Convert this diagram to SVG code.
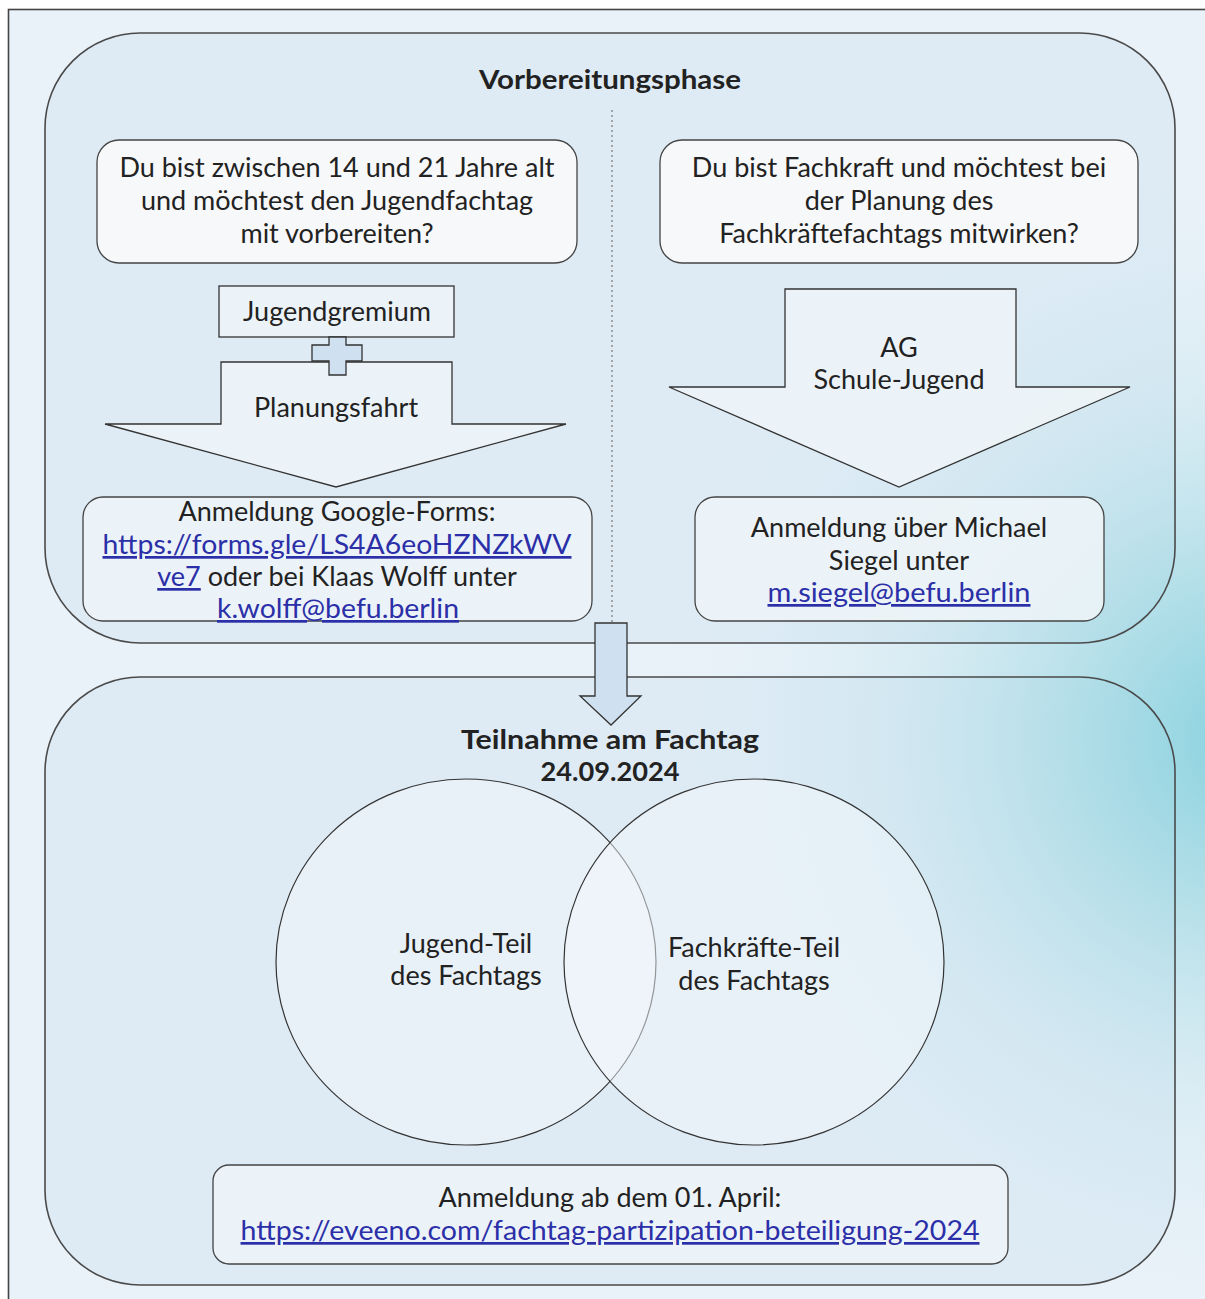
<svg xmlns="http://www.w3.org/2000/svg" width="1205" height="1299" viewBox="0 0 1205 1299">
<defs>
<radialGradient id="teal" gradientUnits="userSpaceOnUse" cx="1250" cy="740" r="600">
<stop offset="0" stop-color="#7fcfdc" stop-opacity="0.95"/>
<stop offset="0.25" stop-color="#96d5e0" stop-opacity="0.7"/>
<stop offset="0.6" stop-color="#b7dfe8" stop-opacity="0.3"/>
<stop offset="1" stop-color="#dcebf4" stop-opacity="0"/>
</radialGradient>
<style>
.t{font-family:Lato,"Noto Sans","Liberation Sans",sans-serif;font-size:27px;fill:#222;text-anchor:middle}
.b{font-weight:bold}
.lnk{fill:#2b2fa8;text-decoration:underline}
.phase{fill:#deebf5}
.phs{fill:none;stroke:#4a4a4a;stroke-width:1.6}
.q{fill:#f7f8f9;stroke:#444;stroke-width:1.3}
.reg{fill:#eef4f8;fill-opacity:0.85;stroke:#444;stroke-width:1.3}
.shape{fill:#eef4f8;fill-opacity:0.85;stroke:#333;stroke-width:1.3}
.plus{fill:#cfe1f0;stroke:#333;stroke-width:1.3}
.circ{fill:#f4f8fb;fill-opacity:0.5;stroke:#333;stroke-width:1.2}
</style>
</defs>
<rect x="0" y="0" width="1205" height="1299" fill="#ffffff"/>
<rect x="8.5" y="9.5" width="1210" height="1300" fill="#eaf2f9" stroke="#444" stroke-width="1.6"/>
<g id="phase-vorbereitung">
<rect class="phase" x="45" y="33" width="1130" height="610" rx="95" ry="95"/>
</g>
<g id="phase-teilnahme">
<rect class="phase" x="45" y="677" width="1130" height="608" rx="95" ry="95"/>
</g>
<rect x="9" y="10" width="1196" height="1289" fill="url(#teal)"/>
<rect class="phs" x="45" y="33" width="1130" height="610" rx="95" ry="95"/>
<rect class="phs" x="45" y="677" width="1130" height="608" rx="95" ry="95"/>
<text class="t b" x="610" y="89" textLength="262" lengthAdjust="spacingAndGlyphs">Vorbereitungsphase</text>
<line x1="612" y1="110" x2="612" y2="622" stroke="#777" stroke-width="1.2" stroke-dasharray="2 3"/>

<g id="q-jugend">
<rect class="q" x="97" y="140" width="480" height="123" rx="22"/>
<text class="t" x="337" y="177">Du bist zwischen 14 und 21 Jahre alt</text>
<text class="t" x="337" y="210">und möchtest den Jugendfachtag</text>
<text class="t" x="337" y="243">mit vorbereiten?</text>
</g>
<g id="q-fachkraft">
<rect class="q" x="660" y="140" width="478" height="123" rx="22"/>
<text class="t" x="899" y="177">Du bist Fachkraft und möchtest bei</text>
<text class="t" x="899" y="210">der Planung des</text>
<text class="t" x="899" y="243">Fachkräftefachtags mitwirken?</text>
</g>
<g id="jugendgremium">
<rect class="shape" x="219" y="286" width="235" height="51"/>
<text class="t" x="337" y="321">Jugendgremium</text>
</g>
<g id="planungsfahrt">
<polygon class="shape" points="221,362 452,362 452,424 566,424 336,487 105,424 221,424"/>
<text class="t" x="336" y="417">Planungsfahrt</text>
</g>
<g id="plus">
<polygon class="plus" points="329,337 346,337 346,345 362,345 362,361 346,361 346,375 329,375 329,361 312,361 312,345 329,345"/>
</g>
<g id="ag-schule-jugend">
<polygon class="shape" points="785,289 1016,289 1016,387 1130,387 899,487 669,387 785,387"/>
<text class="t" x="899" y="357">AG</text>
<text class="t" x="899" y="389">Schule-Jugend</text>
</g>
<g id="reg-jugend">
<rect class="reg" x="83" y="497" width="509" height="124" rx="20"/>
<text class="t" x="337" y="521">Anmeldung Google-Forms:</text>
<text class="t lnk" x="337" y="554" textLength="469" lengthAdjust="spacingAndGlyphs">https://forms.gle/LS4A6eoHZNZkWV</text>
<text class="t" x="337" y="586"><tspan class="lnk">ve7</tspan> oder bei Klaas Wolff unter</text>
<text class="t lnk" x="338" y="618" textLength="242" lengthAdjust="spacingAndGlyphs">k.wolff@befu.berlin</text>
</g>
<g id="reg-fachkraft">
<rect class="reg" x="695" y="497" width="409" height="124" rx="20"/>
<text class="t" x="899" y="537">Anmeldung über Michael</text>
<text class="t" x="899" y="570">Siegel unter</text>
<text class="t lnk" x="899" y="602" textLength="263" lengthAdjust="spacingAndGlyphs">m.siegel@befu.berlin</text>
</g>

<g id="connectors">
<polygon points="595,623 627,623 627,696 641,696 611,725 580,696 595,696" fill="#cfe1f0" stroke="#333" stroke-width="1.3"/>
</g>

<text class="t b" x="610" y="749" textLength="298" lengthAdjust="spacingAndGlyphs">Teilnahme am Fachtag</text>
<text class="t b" x="610" y="781" textLength="139" lengthAdjust="spacingAndGlyphs">24.09.2024</text>
<g id="jugend-teil">
<ellipse class="circ" cx="466" cy="962" rx="190" ry="183"/>
<text class="t" x="466" y="953">Jugend-Teil</text>
<text class="t" x="466" y="985">des Fachtags</text>
</g>
<g id="fachkraefte-teil">
<ellipse class="circ" cx="754" cy="962" rx="190" ry="183"/>
<text class="t" x="754" y="957">Fachkräfte-Teil</text>
<text class="t" x="754" y="990">des Fachtags</text>
</g>
<g id="reg-fachtag">
<rect class="reg" x="213" y="1165" width="795" height="99" rx="16"/>
<text class="t" x="610" y="1207">Anmeldung ab dem 01. April:</text>
<text class="t lnk" x="610" y="1240" textLength="739" lengthAdjust="spacingAndGlyphs">https://eveeno.com/fachtag-partizipation-beteiligung-2024</text>
</g>
</svg>
